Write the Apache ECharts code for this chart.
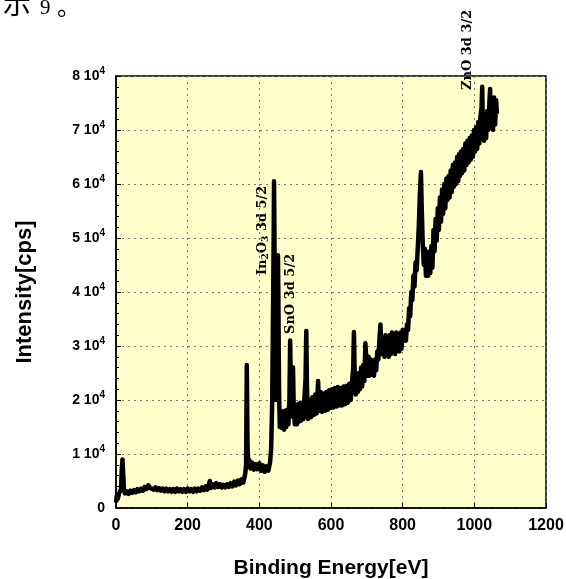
<!DOCTYPE html>
<html>
<head>
<meta charset="utf-8">
<script src="https://cdn.jsdelivr.net/npm/echarts@6/dist/echarts.min.js"></script>
<style>
html,body{margin:0;padding:0;background:#fff;}
#chart{width:566px;height:579px;}
</style>
</head>
<body>
<div id="chart"></div>
<script>
// binding energy (eV) and intensity (cps)
var energy = [0,2,5,8,11,14,16,18,20,22,25,30,35,40,45,50,55,60,65,70,75,80,85,90,95,100,105,110,115,120,125,130,135,140,145,150,155,160,165,170,175,180,185,190,195,200,205,210,215,220,225,230,235,240,245,250,255,262,265,270,275,280,285,290,295,300,305,310,315,320,325,330,335,340,345,350,355,358,361,363,365,367,369,372,375,380,385,390,395,400,405,410,415,420,425,430,433,436,438,440,441,442,444,446,448,450,452,453,455,457,460,463,466,469,472,475,478,481,484,486,488,490,494,496,499,502,505,508,511,514,517,520,523,526,529,531,533,536,540,544,548,552,556,560,564,567,571,575,579,583,587,591,595,599,603,607,611,615,619,623,627,631,635,639,643,647,651,655,659,662,664,666,669,672,675,678,681,684,687,690,693,696,699,702,705,708,711,714,717,720,723,726,729,732,735,738,740,743,746,749,752,755,758,761,764,767,770,773,776,779,782,785,788,791,794,797,800,803,806,809,812,815,818,821,824,827,830,833,836,839,842,845,848,851,853,856,859,862,865,868,871,874,877,880,883,886,889,892,895,898,901,904,907,910,913,916,919,922,925,928,931,934,937,940,943,946,949,952,955,957,960,963,966,969,972,975,978,981,984,987,990,993,996,999,1002,1005,1008,1011,1014,1017,1020,1022,1024,1027,1030,1033,1036,1039,1042,1044,1046,1049,1052,1055,1058,1061,1063];
var intensity = [1000,2200,1700,2600,2300,3500,7000,9000,6500,3500,2700,3100,2600,3200,2800,3300,2900,3500,3100,3600,3200,3900,3500,4200,3700,4000,3400,3800,3300,3700,3200,3600,3100,3600,3100,3500,3000,3500,3000,3600,3100,3500,3000,3500,3000,3600,3100,3500,3000,3600,3100,3600,3200,3800,3300,4000,3400,5000,3700,4400,3800,4600,3900,4400,3800,4300,3800,4400,3900,4600,4000,4900,4200,5100,4400,5300,4700,5500,6500,8000,26500,12000,8000,8900,7300,8400,7100,8100,7200,8300,6900,7900,6700,7700,6900,8500,11000,20000,35000,50000,60500,52000,30000,20000,25000,40000,46800,40000,22000,15000,18000,14800,17800,14500,18000,15000,18200,15500,20000,31000,22000,17000,26000,18500,15500,19000,15500,19200,16000,19500,16200,19500,16500,20500,24000,32800,22000,16500,20000,16800,20500,17200,21000,17500,23500,18000,21500,17800,21200,18000,21500,18200,21800,18500,22000,18600,22200,18800,22400,19000,22200,19000,22500,19200,22600,19500,23000,20000,23500,26000,32600,25000,21000,24000,21500,25000,22000,26000,22500,26500,23500,30500,27000,24500,28000,24500,27500,25000,27000,24500,27500,25500,29000,27500,31000,34000,30000,28500,31500,28000,32000,28500,31500,28000,32000,28500,32500,29000,32000,28500,32500,29500,32000,29000,32500,29500,33000,31000,32000,31000,34000,33000,37000,35500,40000,38500,43000,41000,45500,44000,48000,52000,58000,62200,56000,49000,45000,48000,43000,47000,43000,47500,43500,48500,44500,51500,47500,53500,49500,55500,51500,57500,53000,59000,54500,60000,55500,61000,57000,61500,57500,62500,58500,63500,59500,64000,60000,65000,60500,65500,61500,66000,62000,66500,62500,67500,63500,68000,64000,68500,64500,69000,65000,70000,66000,70500,66500,71500,67500,72500,74000,78000,70000,68000,72500,68500,73500,70000,75000,77600,70500,74500,70000,76000,71000,75500,73000];
var xTicks = [0, 200, 400, 600, 800, 1000, 1200];
var yTickLabels = ['0', '1', '2', '3', '4', '5', '6', '7', '8'];

var points = energy.map(function (e, i) { return [e, intensity[i]]; });

var chart = echarts.init(document.getElementById('chart'));
var sans = 'Liberation Sans';
var serif = 'DejaVu Serif';

function peakLabel(x, y, rich) {
    return {
        type: 'text', x: x, y: y, rotation: Math.PI / 2,
        style: {
            text: rich, fontFamily: serif, fontWeight: 'bold', fontSize: 13, fill: '#000',
            align: 'left', verticalAlign: 'middle',
            rich: {
                s: { fontFamily: serif, fontWeight: 'bold', fontSize: 9, fill: '#000', padding: [6, 0, 0, 0] }
            }
        }
    };
}

var option = {
    animation: false,
    backgroundColor: '#ffffff',
    grid: {
        left: 116,
        right: 20,
        top: 76,
        bottom: 71,
        outerBoundsMode: 'none',
        show: true,
        backgroundColor: '#ffffcc',
        borderColor: '#000',
        borderWidth: 1.5
    },
    xAxis: {
        type: 'value',
        min: 0,
        max: 1200,
        interval: 200,
        name: 'Binding Energy[eV]',
        nameLocation: 'middle',
        nameGap: 50,
        nameTextStyle: { fontFamily: sans, fontWeight: 'bold', fontSize: 21, color: '#000' },
        axisLine: { lineStyle: { color: '#000', width: 1.5 } },
        axisTick: { inside: true, length: 5, lineStyle: { color: '#000' } },
        axisLabel: {
            margin: 10,
            fontFamily: sans, fontWeight: 'bold', fontSize: 16, color: '#000',
            formatter: function (v) { return xTicks.indexOf(v) >= 0 ? String(v) : ''; }
        },
        splitLine: { show: true, lineStyle: { color: '#777', type: [2, 4], width: 1 } }
    },
    yAxis: {
        type: 'value',
        min: 0,
        max: 80000,
        interval: 10000,
        name: 'Intensity[cps]',
        nameLocation: 'middle',
        nameGap: 80,
        nameTextStyle: { fontFamily: sans, fontWeight: 'bold', fontSize: 22, color: '#000' },
        axisLine: { show: true, lineStyle: { color: '#000', width: 1.5 } },
        axisTick: { inside: true, length: 5, lineStyle: { color: '#000' } },
        minorTick: { show: true, splitNumber: 5, length: 3, lineStyle: { color: '#000' } },
        axisLabel: {
            margin: 11,
            fontFamily: sans, fontWeight: 'bold', fontSize: 14, color: '#000',
            formatter: function (v) {
                var t = yTickLabels[Math.round(v / 10000)];
                if (t === '0') return '0';
                return '{b|' + t + ' 10}{s|4}';
            },
            rich: {
                b: { fontFamily: sans, fontWeight: 'bold', fontSize: 14, color: '#000' },
                s: { fontFamily: sans, fontWeight: 'bold', fontSize: 10, color: '#000', padding: [0, 0, 9, 0] }
            }
        },
        splitLine: { show: true, lineStyle: { color: '#777', type: [2, 4], width: 1 } }
    },
    series: [{
        type: 'line',
        data: points,
        showSymbol: false,
        sampling: 'none',
        lineStyle: { color: '#000', width: 4.5, join: 'round' }
    }],
    graphic: [
        { type: 'text', x: 3, y: -11, style: { text: '示', fontFamily: 'Noto Sans CJK SC', fontSize: 28, fill: '#000', verticalAlign: 'top' } },
        { type: 'text', x: 40, y: -2, style: { text: '9', fontFamily: 'Liberation Serif', fontSize: 21, fill: '#000', verticalAlign: 'top' } },
        { type: 'text', x: 57, y: -6, style: { text: '。', fontFamily: 'Noto Sans CJK SC', fontSize: 24, fill: '#000', verticalAlign: 'top' } },
        peakLabel(263, 275, 'In{s|2}O{s|3} 3d 5/2'),
        peakLabel(291, 334, 'SnO 3d 5/2'),
        peakLabel(468, 90, 'ZnO 3d 3/2')
    ]
};

chart.setOption(option);
</script>
</body>
</html>
